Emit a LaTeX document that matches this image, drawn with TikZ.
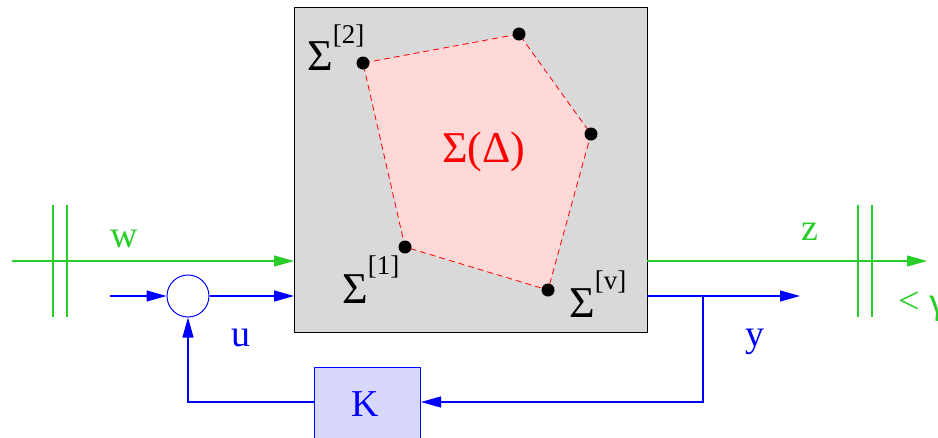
\documentclass[tikz,border=0pt]{standalone}
\usepackage{fontspec}
\setmainfont{Liberation Serif}
\usetikzlibrary{arrows.meta}
\definecolor{gr}{RGB}{40,205,40}
\definecolor{bl}{RGB}{0,0,255}
\definecolor{gbox}{RGB}{217,217,217}
\definecolor{pinkf}{RGB}{255,216,216}
\definecolor{kfill}{RGB}{216,216,255}
\newcommand{\supl}[2]{\raisebox{#1pt}{\fontsize{27}{29}\selectfont #2}}
\tikzset{
  tip/.style={-{Triangle[length=20pt,width=11pt]}},
  lbl/.style={inner sep=0pt,anchor=base west,font=\fontsize{38}{42}\selectfont},
  sig/.style={inner sep=0pt,anchor=base west,font=\fontsize{44}{48}\selectfont},
  vdot/.style={circle,fill=black,inner sep=0pt,minimum size=13pt},
  bars/.style={draw=gr,line width=1.2pt},
}
\begin{document}
\begin{tikzpicture}[x=1pt,y=-1pt]
\useasboundingbox (0,0) rectangle (938,437);
\begin{scope}
\clip (0,0) rectangle (938,437);
% plant box
\node[draw=black,fill=gbox,line width=1pt,minimum width=353pt,minimum height=325pt,inner sep=0pt,anchor=north west] (P) at (294,7) {};
% vertices
\coordinate (v1) at (405,247);
\coordinate (v2) at (363,63);
\coordinate (v3) at (519,34);
\coordinate (v4) at (591,134);
\coordinate (v5) at (548,290);
\fill[pinkf] (v1) -- (v2) -- (v3) -- (v4) -- (v5) -- cycle;
\draw[red,line width=0.8pt,dash pattern=on 6pt off 4pt] (v1) -- (v2) -- (v3) -- (v4) -- (v5) -- cycle;
\foreach \v in {v1,v2,v3,v4,v5} \node[vdot] at (\v) {};
\node[sig,text=red] (sd) at (442,162) {Σ(Δ)};
\node[sig] (s2) at (307,70) {Σ\supl{27}{[2]}};
\node[sig] (s1) at (342,303) {Σ\supl{29}{[1]}};
\node[sig] (sv) at (569,317) {Σ\supl{28}{[v]}};
% w channel
\coordinate (win) at (12,261);
\coordinate (Pw) at (294,261);
\draw[gr,line width=1.2pt,tip] (win) -- (Pw);
\draw[bars] (53,205) -- (53,317);
\draw[bars] (67,205) -- (67,317);
\node[lbl,text=gr] (w) at (110,247) {w};
% z channel
\coordinate (Pz) at (647,261);
\coordinate (zout) at (927,261);
\draw[gr,line width=1.2pt,tip] (Pz) -- (zout);
\draw[bars] (858,205) -- (858,317);
\draw[bars] (872,205) -- (872,317);
\node[lbl,text=gr] (z) at (801,240) {z};
\node[lbl,text=gr] (lt) at (898,313) {<};
\node[lbl,text=gr] (gam) at (929,313) {γ};
% summing junction
\node[draw=bl,circle,minimum size=42pt,inner sep=0pt,line width=1pt] (S) at (188,296) {};
\coordinate (uin) at (110,296);
\draw[bl,line width=1.2pt,tip] (uin) -- (S.west);
\coordinate (Pu) at (294,296);
\draw[bl,line width=1.2pt,tip] (S.east) -- (Pu);
\node[lbl,text=bl] (u) at (231,346) {u};
% y output
\coordinate (Py) at (647,296);
\coordinate (yout) at (800,296);
\coordinate (br) at (703,296);
\draw[bl,line width=1.2pt,tip] (Py) -- (yout);
\node[lbl,text=bl] (y) at (745,346) {y};
% K block
\node[draw=bl,fill=kfill,line width=1pt,minimum width=106pt,minimum height=80pt,inner sep=0pt,anchor=north west] (K) at (314,367) {};
\node[lbl,text=bl] (Kl) at (351,416) {K};
\draw[bl,line width=1.2pt,tip] (br) |- (K.east |- 0,402);
\draw[bl,line width=1.2pt,tip] (K.west |- 0,402) -| (S.south);
\end{scope}
\end{tikzpicture}
\end{document}
